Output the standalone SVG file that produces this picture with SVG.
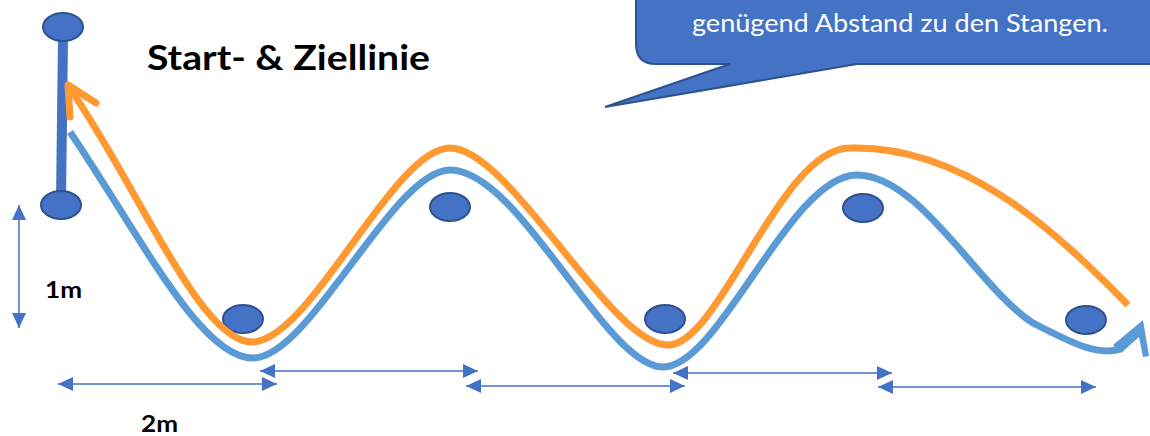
<svg xmlns="http://www.w3.org/2000/svg" width="1150" height="436" viewBox="0 0 1150 436">
<defs>
<style>
.pole{fill:#4472C4;stroke:#2F528F;stroke-width:2}
.dim{fill:none;stroke:#4472C4;stroke-width:1.5}
.blue{fill:none;stroke:#5B9BD5;stroke-width:7}
.orange{fill:none;stroke:#FF9A33;stroke-width:7}
.lbl{font-family:Lato,"Liberation Sans",sans-serif;font-weight:bold;fill:#000}
.call{font-family:Lato,"Open Sans","Liberation Sans",sans-serif;fill:#fff}
</style>
<marker id="ah" viewBox="0 0 15 14" markerWidth="15" markerHeight="14" refX="15" refY="7" orient="auto-start-reverse" markerUnits="userSpaceOnUse">
<path d="M0,0 L15,7 L0,14 Z" fill="#4472C4"/>
</marker>
</defs>
<rect width="1150" height="436" fill="#fff"/>

<g id="callout">
<path d="M656,-20 L1170,-20 L1170,64 L857,64 L605,107 L730,64 L656,64 Q636,64 636,44 L636,-20 Z" fill="#4472C4" stroke="#2F528F" stroke-width="2"/>
<text class="call" x="692" y="32" font-size="25" textLength="416" lengthAdjust="spacingAndGlyphs">genügend Abstand zu den Stangen.</text>
</g>

<g id="title">
<text class="lbl" x="147" y="70" font-size="35" textLength="283" lengthAdjust="spacingAndGlyphs">Start- &amp; Ziellinie</text>
</g>

<g id="start-line">
<path d="M63,38 L61,200" stroke="#4472C4" stroke-width="10" fill="none"/>
<ellipse class="pole" cx="63" cy="27" rx="20" ry="14"/>
<ellipse class="pole" cx="61" cy="205" rx="20" ry="14"/>
</g>

<g id="poles">
<ellipse id="pole1" class="pole" cx="243" cy="319" rx="20" ry="14"/>
<ellipse id="pole2" class="pole" cx="450" cy="207" rx="20" ry="14"/>
<ellipse id="pole3" class="pole" cx="665" cy="319" rx="20" ry="14"/>
<ellipse id="pole4" class="pole" cx="863" cy="208" rx="20" ry="14"/>
<ellipse id="pole5" class="pole" cx="1086" cy="320" rx="20" ry="14"/>
</g>

<g id="label-1m">
<text class="lbl" x="45" y="298" font-size="22" textLength="37" lengthAdjust="spacingAndGlyphs">1m</text>
</g>
<g id="label-2m">
<text class="lbl" x="141" y="432" font-size="22" textLength="37" lengthAdjust="spacingAndGlyphs">2m</text>
</g>

<g id="connectors">
<path class="blue" d="M70,132 C140,235 200,358 253,358 C310,358 393,170 450,170 C520,170 605,367 663,367 C720,367 790,175 857,175 C920,175 980,290 1033,323 C1070,342 1100,358 1122,348"/>
<path d="M1113,345 L1143,320 L1149,356 L1143,357 L1139,337 L1121,353 Z" fill="#5B9BD5"/>
<path class="orange" d="M69,87 C140,190 200,342 252,342 C310,342 393,148 450,148 C510,148 610,345 668,345 C720,345 780,148 850,148 C960,145 1050,225 1128,305"/>
<path d="M96,103 L68,85 L70,117" fill="none" stroke="#FF9A33" stroke-width="7" stroke-linecap="round" stroke-linejoin="round"/>

<line class="dim" x1="19" y1="205" x2="19" y2="328" marker-start="url(#ah)" marker-end="url(#ah)"/>
<line class="dim" x1="58" y1="384" x2="277" y2="384" marker-start="url(#ah)" marker-end="url(#ah)"/>
<line class="dim" x1="260" y1="371" x2="478" y2="371" marker-start="url(#ah)" marker-end="url(#ah)"/>
<line class="dim" x1="466" y1="386" x2="685" y2="386" marker-start="url(#ah)" marker-end="url(#ah)"/>
<line class="dim" x1="673" y1="373" x2="892" y2="373" marker-start="url(#ah)" marker-end="url(#ah)"/>
<line class="dim" x1="878" y1="387" x2="1096" y2="387" marker-start="url(#ah)" marker-end="url(#ah)"/>
</g>
</svg>
